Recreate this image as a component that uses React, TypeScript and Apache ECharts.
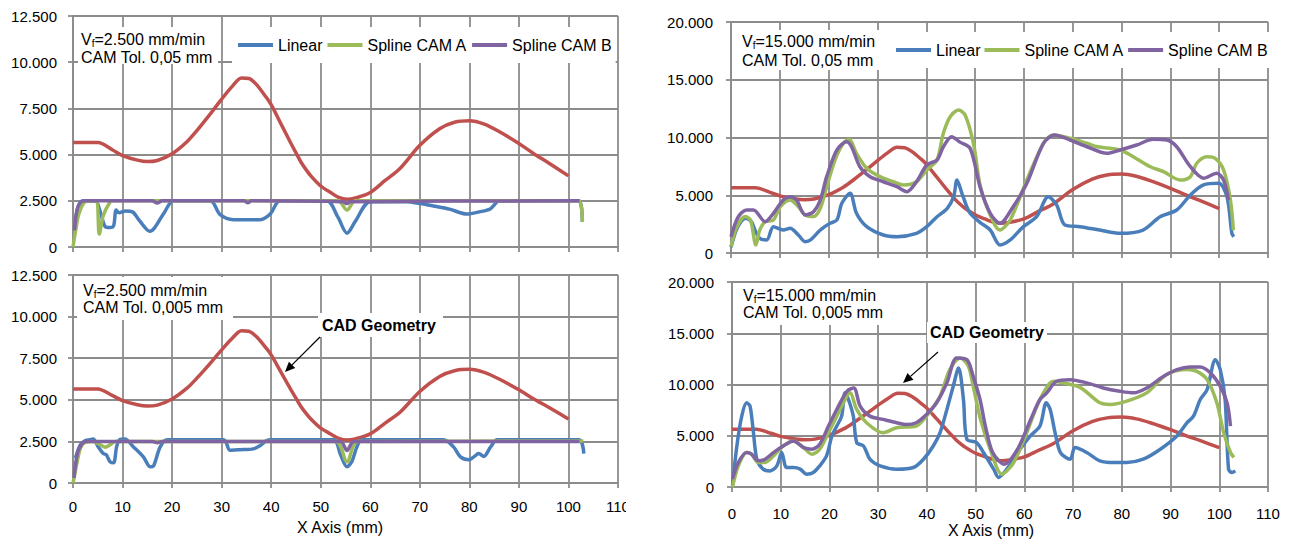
import React, { useEffect, useRef } from 'react';
import * as echarts from 'echarts';

type P = [number, number];

// ---------- data (x in mm, y in mm/min) ----------
const CAD: P[] = [[0,5650],[5,5650],[8,5250],[10,4950],[13,4700],[15,4620],[17,4680],[20,5050],[23,5700],[25,6300],[28,7300],[30,8000],[32,8650],[34,9150],[35.5,9120],[37,8800],[39,8100],[40,7700],[42,6650],[44,5600],[45,5100],[46,4600],[47,4200],[48,3850],[50,3300],[52,2950],[53.5,2700],[55.3,2580],[57,2650],[60,2950],[63,3600],[66,4250],[70,5500],[74,6400],[77,6750],[80,6830],[83,6650],[86,6250],[90,5600],[93,5050],[96,4550],[100,3850]];

const TL_LINEAR: P[] = [[0.5,1500],[1.2,2300],[2,2500],[4.5,2500],[5.5,1900],[6.5,1100],[7.5,1050],[8.2,1150],[8.7,2000],[9.3,1850],[10.6,1950],[12,1900],[13.5,1400],[15.5,850],[16.5,1050],[18.5,1900],[20.3,2500],[27.7,2500],[29.7,1750],[32.4,1480],[37.8,1480],[39.8,1780],[41.8,2500],[51.2,2500],[53.5,1600],[55.3,750],[57,1400],[60,2450],[67.4,2450],[70,2350],[72.7,2220],[76,2050],[79.5,1780],[82,1900],[84.2,2060],[85.6,2450],[86,2500],[102.1,2500],[102.8,1350]];
const TL_SPLINE_A: P[] = [[0,0],[0.6,1000],[1.2,1800],[2.5,2450],[4.6,2500],[5.3,700],[6.1,1700],[7.5,2450],[8,2500],[53.5,2500],[55.3,2000],[57,2500],[102.1,2500],[102.8,1350]];
const TL_SPLINE_B: P[] = [[0.3,900],[0.8,2000],[1.5,2400],[2.5,2500],[16,2500],[17,2380],[18,2500],[34.5,2500],[35.3,2400],[36,2500],[54.5,2450],[55.3,2350],[56,2450],[102.2,2500]];

const BL_LINEAR: P[] = [[0.5,1500],[1.5,2300],[2.5,2550],[3.4,2600],[4.1,2640],[5.1,2170],[6.1,1770],[6.7,1700],[7.5,1270],[8.2,1210],[8.8,2170],[9.4,2600],[10.5,2640],[12.2,2170],[14.2,1570],[15.6,970],[16.3,1050],[17.6,2170],[19,2600],[30.4,2600],[31.7,1970],[33.7,2000],[36.4,2050],[37.8,2250],[39.1,2550],[40,2600],[52.6,2600],[54,1700],[55.3,970],[56.3,1300],[57.3,2170],[58.3,2600],[74.8,2600],[76.8,2170],[78.2,1570],[79.9,1400],[80.9,1570],[81.9,1770],[82.9,1600],[84.3,2170],[85.6,2600],[102.1,2600],[103.1,1770]];
const BL_SPLINE_A: P[] = [[0,0],[0.8,1200],[1.5,2100],[2.5,2450],[4,2500],[5.5,2300],[6.5,2150],[7.5,2300],[8.5,2500],[53,2500],[55.3,1270],[57.5,2500],[103,2520]];
const BL_SPLINE_B: P[] = [[0.2,300],[0.6,1300],[1.1,1970],[2.1,2450],[3,2500],[16,2500],[17,2420],[18,2500],[54,2500],[55.3,1950],[56.7,2500],[102.2,2500]];

const TR_LINEAR: P[] = [[0,500],[1,1900],[2,2700],[3,3000],[4.2,2700],[4.9,1990],[5.9,1270],[7.3,1130],[8.7,2280],[10.7,1990],[12.1,2140],[13.8,1560],[15.2,980],[16.3,1130],[18.3,1990],[20.3,2570],[21.7,2860],[22.7,4300],[24.4,5170],[25.7,3440],[27.8,2280],[31.2,1560],[34,1410],[38,1700],[40.1,2280],[42.2,3140],[44.3,3870],[45.6,4870],[46.3,6320],[47.3,5170],[48.3,4010],[49,3440],[51,2650],[53.1,1990],[55.1,690],[57.2,1130],[59.9,2280],[62.6,3140],[65,4870],[66.7,4160],[68.4,2420],[71.5,2280],[75.5,1990],[79.7,1700],[84.4,1990],[87.9,3140],[91.3,3720],[94.1,5020],[96.8,5890],[99.9,6030],[101.6,4870],[102.6,1700],[103,1410]];
const TR_SPLINE_A: P[] = [[0,550],[1.2,2280],[2.9,3150],[4,2850],[5.1,690],[5.9,2000],[7,2710],[8.7,2860],[10.1,4010],[12.1,4590],[13.8,4010],[15.2,3290],[16.9,3150],[18.3,3870],[19.6,5740],[21.3,8050],[23,9500],[24.2,9840],[25.7,8630],[27.8,7330],[30.5,6610],[33.3,6170],[35.3,5890],[38,6170],[40.1,7190],[42.2,8050],[43.5,10360],[44.9,11800],[46.6,12380],[48,11900],[49.7,9400],[51,5900],[52.4,4010],[55.1,1990],[57.2,2860],[60.6,6320],[64,9500],[66,10220],[69.5,9930],[72.9,9500],[75.1,9200],[79.7,8920],[82.4,8340],[85.9,7470],[88.6,7040],[92,6320],[94.1,6610],[95.4,7770],[97.5,8340],[99.2,8200],[100.9,7190],[102.3,4590],[102.9,1990]];
const TR_SPLINE_B: P[] = [[0,1410],[1.5,3140],[3.2,3720],[4.6,3720],[7,2710],[8.7,3440],[10.7,4590],[12.1,4870],[13.4,4590],[15.2,3290],[16.9,3580],[18.3,4590],[19.6,6610],[21.7,8920],[23.7,9640],[24.7,9200],[26.4,7470],[28.5,6610],[31.2,6170],[34,5740],[36,5310],[38,6170],[40.1,7620],[42.2,8050],[43.5,9200],[45.2,10070],[46.9,9600],[49,9050],[51,5740],[53.1,3440],[55.1,2570],[57.8,4010],[60.6,6030],[64,9500],[66.3,10220],[69.5,9780],[72.9,9200],[77,8630],[79.7,8920],[83.1,9350],[86.5,9840],[89.3,9780],[91.3,9200],[94.1,7470],[96.8,6470],[99.5,6900],[100.9,6320],[101.9,4590]];

const BR_LINEAR: P[] = [[0.1,130],[1,4010],[2,6920],[3,8220],[3.7,7890],[4.4,5310],[5.1,2720],[6.4,1750],[7.8,1580],[9.2,2070],[10.2,3370],[11.2,1910],[12.6,1910],[14,1750],[15.3,1260],[16.7,1420],[18,2070],[19.4,3040],[20.5,4980],[21.5,5950],[22.5,6920],[23.2,9190],[23.9,8540],[24.9,6920],[25.6,4340],[27,4010],[28.3,2720],[30.4,2070],[33.8,1750],[37.2,1910],[39.3,2720],[41.3,4010],[42.7,5310],[44.1,7570],[45.4,9830],[46.5,11620],[47.5,8540],[48.2,4660],[50.2,4340],[51.6,3370],[53.7,1750],[54.7,940],[56.4,1750],[59.1,3690],[61.2,4980],[63.2,5950],[64.5,8220],[65.3,7570],[66.3,5310],[67.4,3370],[69.4,2720],[70.4,3850],[72.8,3370],[75.5,2560],[78.3,2400],[81,2400],[84.4,2720],[87.9,3690],[91.3,4980],[93.4,6280],[94.7,6920],[96.1,8540],[97.5,9510],[99.2,12430],[100.2,11460],[101.2,8540],[101.9,1750],[102.6,1420],[103.3,1580]];
const BR_SPLINE_A: P[] = [[0.1,0],[1.3,2070],[3,3370],[4,3210],[5.4,2400],[6.8,2400],[8.5,3040],[10.5,4010],[12.6,4500],[14.7,3850],[16.4,3210],[18,3690],[19.8,5310],[21.5,6920],[23.2,8540],[24.2,9190],[25.6,7570],[27.6,6280],[31,5310],[33.8,5790],[37.8,5950],[39.9,6920],[42.7,8870],[44.7,11460],[46.8,12600],[48.5,11800],[49.5,9830],[51,6600],[53,3690],[55.4,1260],[57.8,2400],[60.5,5310],[63.2,8540],[66,10320],[68,10160],[71.5,9700],[75.5,8220],[77.6,8060],[81,8380],[85.1,9190],[89.2,10980],[93.4,11460],[95.4,11290],[97.5,10480],[99.5,8220],[100.9,5310],[102.3,3370],[103,2890]];
const BR_SPLINE_B: P[] = [[0.1,780],[1.3,2400],[3,3370],[4,3210],[5.4,2560],[6.8,2720],[8.5,3370],[10.5,4010],[12.6,4500],[14.7,3850],[16.4,3690],[18,4180],[19.8,5950],[21.5,7570],[23.6,9350],[25,9670],[26.3,7890],[28.3,6920],[31,6600],[33.8,6280],[35.8,6110],[37.8,6280],[39.9,7080],[42,8220],[44.1,10160],[46.1,12590],[48.2,12430],[49.5,10800],[50.9,8540],[52,5950],[53.5,3370],[55.9,2240],[58.6,3690],[61.3,6600],[63.2,8540],[64.6,9190],[66.6,10320],[69.4,10480],[72.8,10160],[76.2,9670],[79.6,9350],[82.4,9190],[85.1,9670],[88.6,10810],[91.3,11460],[94,11720],[96.1,11720],[98.2,11130],[100.2,9830],[101.6,8220],[102.3,5950]];

const SERIES_NAMES = ['CAD Geometry', 'Linear', 'Spline CAM A', 'Spline CAM B'];
const LEGEND_NAMES = ['Linear', 'Spline CAM A', 'Spline CAM B'];
const PANEL_DATA: P[][][] = [
  [CAD, TL_LINEAR, TL_SPLINE_A, TL_SPLINE_B],
  [CAD, BL_LINEAR, BL_SPLINE_A, BL_SPLINE_B],
  [CAD, TR_LINEAR, TR_SPLINE_A, TR_SPLINE_B],
  [CAD, BR_LINEAR, BR_SPLINE_A, BR_SPLINE_B],
];
const Y_MAX = [12500, 12500, 20000, 20000];
const Y_INTERVAL = [2500, 2500, 5000, 5000];
const SPEED_TEXT = ['=2.500 mm/min', '=2.500 mm/min', '=15.000 mm/min', '=15.000 mm/min'];
const TOL_TEXT = ['CAM Tol. 0,05 mm', 'CAM Tol. 0,005 mm', 'CAM Tol. 0,05 mm', 'CAM Tol. 0,005 mm'];

// ---------- styles / layout ----------
const FONT = "'Liberation Sans', Arial, Helvetica, sans-serif";
const GRID_COLOR = '#8c8c8c';
const COLORS = ['#c0504d', '#4a7ebb', '#9bbb59', '#8064a2'];
const GRIDS = [
  { left: 73, top: 16, width: 545, height: 231 },
  { left: 73, top: 275, width: 545, height: 208 },
  { left: 731, top: 22, width: 537, height: 231 },
  { left: 732, top: 282, width: 536, height: 206 },
];
const SHOW_X_LABELS = [false, true, false, true];
const X_LABEL_MARGIN = [16, 16, 19, 19];
const NAME_GAP = [36, 36, 34, 34];
const NAME_PAD_RIGHT = [11, 11, 18, 18];
const Y_LABEL_MARGIN = [16, 16, 18, 18];
const INFO_BOX = [
  { x: 78, y: 27, w: 140, h: 37, tx: 81, l1: 39, l2: 57 },
  { x: 77, y: 277, w: 156, h: 43, tx: 83, l1: 290, l2: 307.5 },
  { x: 737, y: 30, w: 143, h: 40, tx: 742, l1: 41.7, l2: 60 },
  { x: 737, y: 283, w: 153, h: 42, tx: 743, l1: 295, l2: 312.5 },
];
const CAD_LABELS = [
  { x: 318, y: 313, w: 125, h: 24, tx: 322, ty: 325, ax1: 320, ay1: 337, ax2: 285, ay2: 372 },
  { x: 927, y: 322, w: 120, h: 21, tx: 930, ty: 332, ax1: 938, ay1: 352, ax2: 903, ay2: 383 },
];

const fmtY = (v: number) =>
  v === 0 ? '0' : `${Math.floor(v / 1000)}.${String(v % 1000).padStart(3, '0')}`;

function arrow(x1: number, y1: number, x2: number, y2: number) {
  const dx = x2 - x1, dy = y2 - y1;
  const len = Math.hypot(dx, dy);
  const ux = dx / len, uy = dy / len;
  const hl = 10, hw = 4.5;
  const bx = x2 - ux * hl, by = y2 - uy * hl;
  return [
    { type: 'line', z: 100, shape: { x1, y1, x2: bx, y2: by }, style: { stroke: '#000', lineWidth: 1.2 } },
    {
      type: 'polygon', z: 100,
      shape: { points: [[x2, y2], [bx - uy * hw, by + ux * hw], [bx + uy * hw, by - ux * hw]] },
      style: { fill: '#000' },
    },
  ];
}

export default function App() {
  const ref = useRef<HTMLDivElement>(null);
  useEffect(() => {
    if (!ref.current) return;
    const chart = echarts.init(ref.current, undefined, { renderer: 'svg' });

    const xAxis = GRIDS.map((_, i) => ({
      type: 'value', gridIndex: i, min: 0, max: 110, interval: 10,
      axisLine: { show: true, onZero: false, lineStyle: { color: GRID_COLOR, width: 1.8 } },
      axisTick: { show: true, length: 5, lineStyle: { color: GRID_COLOR, width: 1.8 } },
      splitLine: { show: true, lineStyle: { color: GRID_COLOR, width: 1.8 } },
      axisLabel: { show: SHOW_X_LABELS[i], margin: X_LABEL_MARGIN[i], fontSize: 15, color: '#000', fontFamily: FONT },
      name: SHOW_X_LABELS[i] ? 'X Axis (mm)' : '',
      nameLocation: 'middle', nameGap: NAME_GAP[i],
      nameTextStyle: { fontSize: 16, color: '#000', fontFamily: FONT, padding: [0, NAME_PAD_RIGHT[i], 0, 0] },
    }));
    const yAxis = GRIDS.map((_, i) => ({
      type: 'value', gridIndex: i, min: 0, max: Y_MAX[i], interval: Y_INTERVAL[i],
      axisLine: { show: true, onZero: false, lineStyle: { color: GRID_COLOR, width: 1.8 } },
      axisTick: { show: true, length: 5, lineStyle: { color: GRID_COLOR, width: 1.8 } },
      splitLine: { show: true, lineStyle: { color: GRID_COLOR, width: 1.8 } },
      axisLabel: { margin: Y_LABEL_MARGIN[i], fontSize: 15, color: '#000', fontFamily: FONT, formatter: fmtY },
    }));

    const series: any[] = [];
    PANEL_DATA.forEach((panel, i) => {
      panel.forEach((data, k) => {
        series.push({
          type: 'line', name: SERIES_NAMES[k], xAxisIndex: i, yAxisIndex: i,
          data, showSymbol: false, symbol: 'none', smooth: 0.3,
          lineStyle: { color: COLORS[k], width: 3.5 },
          itemStyle: { color: COLORS[k] },
          z: 2 + k,
        });
      });
    });

    const legendCommon = {
      data: LEGEND_NAMES, orient: 'horizontal', icon: 'rect', itemWidth: 35, itemHeight: 4,
      backgroundColor: '#fff', padding: [10, 4, 10, 6],
      textStyle: { fontSize: 16, color: '#000', fontFamily: FONT },
    };

    const graphic: any[] = [];
    INFO_BOX.forEach((b, i) => {
      graphic.push({ type: 'rect', z: 90, shape: { x: b.x, y: b.y, width: b.w, height: b.h }, style: { fill: '#fff' } });
      graphic.push({
        type: 'text', z: 91, x: b.tx, y: b.l1,
        style: {
          text: `{n|V}{s|f}{n|${SPEED_TEXT[i]}}`, align: 'left', verticalAlign: 'middle',
          rich: {
            n: { fontSize: 16, lineHeight: 18, fontFamily: FONT, fill: '#000' },
            s: { fontSize: 10, lineHeight: 10, verticalAlign: 'bottom', fontFamily: FONT, fill: '#000' },
          },
        },
      });
      graphic.push({
        type: 'text', z: 91, x: b.tx, y: b.l2,
        style: { text: TOL_TEXT[i], align: 'left', verticalAlign: 'middle', fontSize: 16, fontFamily: FONT, fill: '#000' },
      });
    });
    CAD_LABELS.forEach((c) => {
      graphic.push({ type: 'rect', z: 90, shape: { x: c.x, y: c.y, width: c.w, height: c.h }, style: { fill: '#fff' } });
      graphic.push({
        type: 'text', z: 91, x: c.tx, y: c.ty,
        style: { text: 'CAD Geometry', align: 'left', verticalAlign: 'middle', fontSize: 16, fontWeight: 'bold', fontFamily: FONT, fill: '#000' },
      });
      graphic.push(...arrow(c.ax1, c.ay1, c.ax2, c.ay2));
    });
    // clip of the left chart's last x label, as in the reference
    graphic.push({ type: 'rect', z: 100, shape: { x: 626, y: 495, width: 30, height: 26 }, style: { fill: '#fff' } });

    chart.setOption({
      animation: false,
      backgroundColor: '#fff',
      grid: GRIDS.map((g) => ({ ...g, containLabel: false })),
      xAxis, yAxis, series,
      legend: [
        { ...legendCommon, left: 232, top: 27, itemGap: 5 },
        { ...legendCommon, left: 890, top: 32, itemGap: 4 },
      ],
      graphic,
    });
    return () => chart.dispose();
  }, []);
  return <div ref={ref} style={{ position: 'fixed', left: 0, top: 0, width: 1295, height: 539 }} />;
}
